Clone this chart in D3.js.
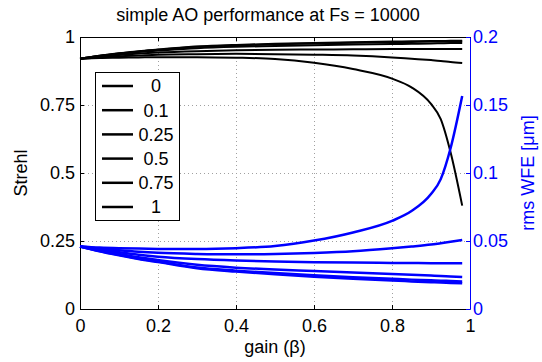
<!DOCTYPE html>
<html>
<head>
<meta charset="utf-8">
<script src="https://cdn.jsdelivr.net/npm/d3@7"></script>
<style>
  body { margin: 0; background: #fff; }
  svg text { font-family: "Liberation Sans", Arial, Helvetica, sans-serif; }
</style>
</head>
<body>
<div id="chart"></div>
<script>
// gain values shared by all curves
const gains = [0, 0.05, 0.1, 0.15, 0.2, 0.3, 0.4, 0.5, 0.6, 0.7, 0.8, 0.85, 0.9, 0.925, 0.95, 0.98];

// legend entries (noise levels)
const noiseLabels = ['0', '0.1', '0.25', '0.5', '0.75', '1'];

// Strehl ratio per noise level
const strehl0   = [0.920, 0.931, 0.940, 0.948, 0.954, 0.965, 0.971, 0.975, 0.978, 0.981, 0.983, 0.984, 0.985, 0.985, 0.986, 0.986];
const strehl01  = [0.920, 0.931, 0.939, 0.947, 0.953, 0.964, 0.969, 0.973, 0.976, 0.979, 0.981, 0.982, 0.983, 0.983, 0.983, 0.984];
const strehl025 = [0.920, 0.930, 0.938, 0.945, 0.950, 0.959, 0.964, 0.967, 0.970, 0.972, 0.974, 0.975, 0.976, 0.977, 0.978, 0.978];
const strehl05  = [0.920, 0.927, 0.934, 0.939, 0.943, 0.948, 0.951, 0.953, 0.954, 0.955, 0.956, 0.956, 0.956, 0.956, 0.956, 0.956];
const strehl075 = [0.920, 0.925, 0.929, 0.932, 0.935, 0.937, 0.938, 0.937, 0.935, 0.932, 0.925, 0.920, 0.915, 0.912, 0.908, 0.904];
const strehl1   = [0.920, 0.923, 0.924, 0.925, 0.926, 0.926, 0.924, 0.919, 0.905, 0.882, 0.847, 0.815, 0.754, 0.698, 0.577, 0.380];

// rms wavefront error [um] per noise level
const wfe0   = [0.0460, 0.0425, 0.0395, 0.0368, 0.0345, 0.0300, 0.0275, 0.0255, 0.0238, 0.0223, 0.0209, 0.0203, 0.0197, 0.0194, 0.0192, 0.0189];
const wfe01  = [0.0460, 0.0427, 0.0398, 0.0371, 0.0349, 0.0305, 0.0282, 0.0264, 0.0248, 0.0234, 0.0222, 0.0216, 0.0211, 0.0208, 0.0206, 0.0203];
const wfe025 = [0.0460, 0.0430, 0.0404, 0.0380, 0.0360, 0.0325, 0.0304, 0.0290, 0.0280, 0.0269, 0.0258, 0.0252, 0.0246, 0.0243, 0.0239, 0.0235];
const wfe05  = [0.0460, 0.0437, 0.0417, 0.0399, 0.0385, 0.0367, 0.0356, 0.0349, 0.0344, 0.0341, 0.0339, 0.0338, 0.0337, 0.0337, 0.0336, 0.0336];
const wfe075 = [0.0460, 0.0445, 0.0432, 0.0421, 0.0413, 0.0405, 0.0402, 0.0405, 0.0412, 0.0424, 0.0446, 0.0459, 0.0474, 0.0484, 0.0494, 0.0507];
const wfe1   = [0.0460, 0.0452, 0.0447, 0.0444, 0.0442, 0.0441, 0.0447, 0.0463, 0.0503, 0.0563, 0.0648, 0.0720, 0.0845, 0.0955, 0.1180, 0.1566];

const xTicks = [0, 0.2, 0.4, 0.6, 0.8, 1];
const strehlTicks = [0, 0.25, 0.5, 0.75, 1];
const wfeTicks = [0, 0.05, 0.1, 0.15, 0.2];

const strehlSeries = [strehl0, strehl01, strehl025, strehl05, strehl075, strehl1];
const wfeSeries = [wfe0, wfe01, wfe025, wfe05, wfe075, wfe1];

const width = 542, height = 362;
const margin = { top: 37, right: 72, bottom: 53, left: 80 };
const innerW = width - margin.left - margin.right;
const innerH = height - margin.top - margin.bottom;
const fontSize = 18;

const svg = d3.select('#chart').append('svg')
    .attr('width', width)
    .attr('height', height);

const g = svg.append('g')
    .attr('transform', `translate(${margin.left},${margin.top})`);

const x = d3.scaleLinear().domain([0, 1]).range([0, innerW]);
const yL = d3.scaleLinear().domain([0, 1]).range([innerH, 0]);
const yR = d3.scaleLinear().domain([0, 0.2]).range([innerH, 0]);

// grid (dotted)
const grid = g.append('g')
    .attr('stroke', '#a0a0a0')
    .attr('stroke-width', 1)
    .attr('stroke-dasharray', '1,3');
grid.selectAll('line.gx')
    .data(xTicks.slice(1, -1))
    .join('line')
    .attr('x1', d => Math.round(x(d)) + 0.5)
    .attr('x2', d => Math.round(x(d)) + 0.5)
    .attr('y1', 0)
    .attr('y2', innerH);
grid.selectAll('line.gy')
    .data(strehlTicks.slice(1, -1))
    .join('line')
    .attr('x1', 0)
    .attr('x2', innerW)
    .attr('y1', d => Math.round(yL(d)) + 0.5)
    .attr('y2', d => Math.round(yL(d)) + 0.5);

// axes, MATLAB style: ticks pointing inward
const tickLen = 4;
const bottomAxis = g.append('g')
    .attr('transform', `translate(0,${innerH})`)
    .call(d3.axisBottom(x).tickValues(xTicks).tickSizeInner(-tickLen).tickSizeOuter(0).tickPadding(10).tickFormat(d3.format('')));
const topAxis = g.append('g')
    .call(d3.axisTop(x).tickValues(xTicks).tickSizeInner(-tickLen).tickSizeOuter(0).tickFormat(''));
const leftAxis = g.append('g')
    .call(d3.axisLeft(yL).tickValues(strehlTicks).tickSizeInner(-tickLen).tickSizeOuter(0).tickPadding(5).tickFormat(d3.format('')));
const rightAxis = g.append('g')
    .attr('transform', `translate(${innerW},0)`)
    .call(d3.axisRight(yR).tickValues(wfeTicks).tickSizeInner(-tickLen).tickSizeOuter(0).tickPadding(3).tickFormat(d3.format('')));

[bottomAxis, topAxis, leftAxis].forEach(a => {
    a.selectAll('path, line').attr('stroke', '#000').attr('stroke-width', 1);
    a.selectAll('text').attr('fill', '#000').style('font-size', fontSize + 'px');
});
rightAxis.selectAll('path, line').attr('stroke', '#0000ff').attr('stroke-width', 1);
rightAxis.selectAll('text').attr('fill', '#0000ff').style('font-size', fontSize + 'px');

// black Strehl curves
const lineL = d3.line()
    .x((d, i) => x(gains[i]))
    .y(d => yL(d))
    .curve(d3.curveMonotoneX);
g.append('g')
    .attr('fill', 'none')
    .attr('stroke', '#000')
    .attr('stroke-width', 2)
    .selectAll('path')
    .data(strehlSeries)
    .join('path')
    .attr('d', lineL);

// blue WFE curves
const lineR = d3.line()
    .x((d, i) => x(gains[i]))
    .y(d => yR(d))
    .curve(d3.curveMonotoneX);
g.append('g')
    .attr('fill', 'none')
    .attr('stroke', '#0000ff')
    .attr('stroke-width', 2.5)
    .selectAll('path')
    .data(wfeSeries)
    .join('path')
    .attr('d', lineR);

// legend
const leg = g.append('g').attr('transform', 'translate(15,35)');
const rowH = 24.2;
leg.append('rect')
    .attr('x', 0.5)
    .attr('y', 0.5)
    .attr('width', 84)
    .attr('height', 148)
    .attr('fill', '#fff')
    .attr('stroke', '#000')
    .attr('stroke-width', 1);
const rows = leg.selectAll('g.row')
    .data(noiseLabels)
    .join('g')
    .attr('transform', (d, i) => `translate(0,${14 + i * rowH})`);
rows.append('line')
    .attr('x1', 7)
    .attr('x2', 38)
    .attr('stroke', '#000')
    .attr('stroke-width', 2.5);
rows.append('text')
    .attr('x', 61)
    .attr('dy', '0.36em')
    .attr('text-anchor', 'middle')
    .style('font-size', fontSize + 'px')
    .text(d => d);

// titles
svg.append('text')
    .attr('x', 268)
    .attr('y', 21)
    .attr('text-anchor', 'middle')
    .style('font-size', fontSize + 'px')
    .text('simple AO performance at Fs = 10000');

svg.append('text')
    .attr('x', margin.left + innerW / 2)
    .attr('y', 353)
    .attr('text-anchor', 'middle')
    .style('font-size', fontSize + 'px')
    .text('gain (β)');

svg.append('text')
    .attr('transform', `translate(27,${margin.top + innerH / 2}) rotate(-90)`)
    .attr('text-anchor', 'middle')
    .style('font-size', fontSize + 'px')
    .text('Strehl');

svg.append('text')
    .attr('transform', `translate(534,${margin.top + innerH / 2}) rotate(-90)`)
    .attr('text-anchor', 'middle')
    .attr('fill', '#0000ff')
    .style('font-size', fontSize + 'px')
    .text('rms WFE [μm]');
</script>
</body>
</html>
